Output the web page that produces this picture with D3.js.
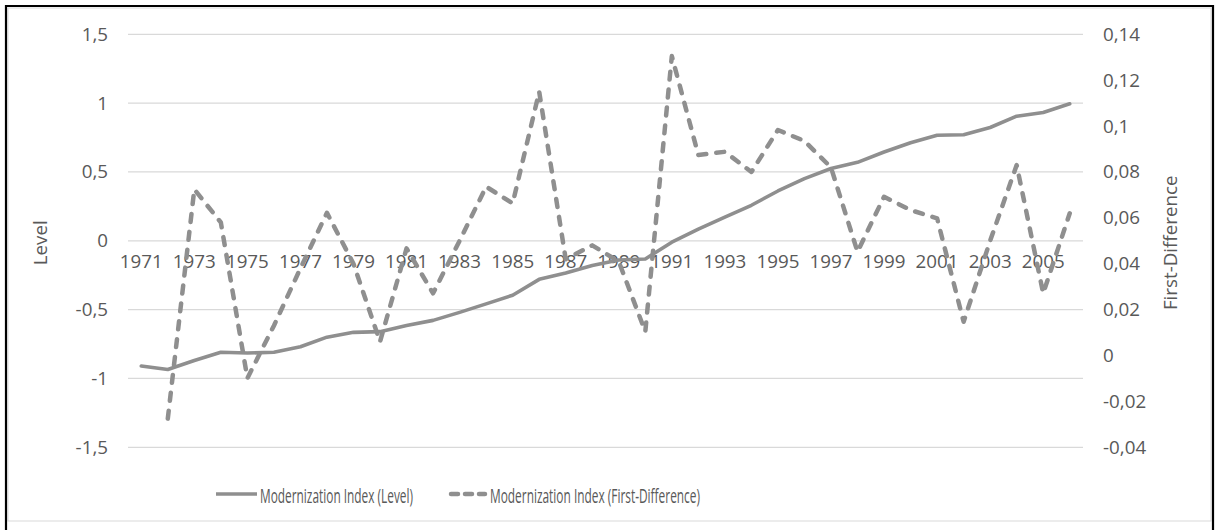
<!DOCTYPE html>
<html>
<head>
<meta charset="utf-8">
<script src="https://cdn.jsdelivr.net/npm/d3@7/dist/d3.min.js"></script>
<style>
  html, body { margin: 0; padding: 0; background: #fff; }
  svg { display: block; }
  text { font-family: "Open Sans", "DejaVu Sans", sans-serif; fill: #595959; }
</style>
</head>
<body>
<svg id="chart" width="1216" height="530"></svg>
<script>
// ---- Data ----
const years = [1971,1972,1973,1974,1975,1976,1977,1978,1979,1980,1981,1982,1983,1984,1985,1986,1987,1988,
               1989,1990,1991,1992,1993,1994,1995,1996,1997,1998,1999,2000,2001,2002,2003,2004,2005,2006];
const levelValues = [-0.91,-0.935,-0.87,-0.81,-0.815,-0.81,-0.77,-0.70,-0.665,-0.66,-0.615,-0.578,-0.52,-0.458,-0.395,-0.28,
                     -0.234,-0.18,-0.14,-0.132,-0.01,0.085,0.172,0.258,0.362,0.452,0.525,0.57,0.645,0.712,0.767,0.77,
                     0.823,0.905,0.932,0.995];
const diffValues = [null,-0.0275,0.0724,0.058,-0.0099,0.013,0.038,0.0622,0.040,0.006,0.0467,0.0271,0.050,0.0736,0.0663,0.115,
                    0.042,0.048,0.041,0.0104,0.1305,0.0874,0.0888,0.080,0.0983,0.0935,0.082,0.0452,0.0692,0.0634,0.0598,0.0147,
                    0.050,0.083,0.0271,0.062];
const leftTicks = [1.5, 1, 0.5, 0, -0.5, -1, -1.5];
const rightTicks = [0.14, 0.12, 0.1, 0.08, 0.06, 0.04, 0.02, 0, -0.02, -0.04];
const xTickYears = [1971,1973,1975,1977,1979,1981,1983,1985,1987,1989,1991,1993,1995,1997,1999,2001,2003,2005];
const seriesNames = ["Modernization Index (Level)", "Modernization Index (First-Difference)"];
const leftTitle = "Level";
const rightTitle = "First-Difference";

// ---- Layout ----
const svg = d3.select("#chart");
const plot = { left: 128, right: 1083, top: 34.3, bottom: 447.3 };
const lineColor = "#8f8f8f";
const gridColor = "#d9d9d9";
const fs = 18.8;
const fmt = v => String(v).replace(".", ",");

// frame
svg.append("rect").attr("x", 8).attr("y", 8).attr("width", 1203).attr("height", 513)
  .attr("fill", "#fff").attr("stroke", "#d9d9d9").attr("stroke-width", 1);
svg.append("path").attr("d", "M6,530 V6 H1213 V530").attr("fill", "none")
  .attr("stroke", "#000").attr("stroke-width", 2.2);

const x = d3.scaleBand().domain(years).range([plot.left, plot.right]).padding(0);
const xc = d => x(d) + x.bandwidth() / 2;
const yL = d3.scaleLinear().domain([-1.5, 1.5]).range([plot.bottom, plot.top]);
const yR = d3.scaleLinear().domain([-0.04, 0.14]).range([plot.bottom, plot.top]);

// gridlines (left axis)
svg.append("g").selectAll("line").data(leftTicks).join("line")
  .attr("x1", plot.left).attr("x2", plot.right)
  .attr("y1", d => yL(d)).attr("y2", d => yL(d))
  .attr("stroke", gridColor).attr("stroke-width", 1.2);

// left axis
const gL = svg.append("g").attr("transform", `translate(${plot.left},0)`)
  .call(d3.axisLeft(yL).tickValues(leftTicks).tickFormat(fmt).tickSize(0).tickPadding(20));
gL.select(".domain").remove();
gL.selectAll("text").attr("font-size", fs).attr("fill", "#595959").attr("font-family", "Open Sans");

// right axis
const gR = svg.append("g").attr("transform", `translate(${plot.right},0)`)
  .call(d3.axisRight(yR).tickValues(rightTicks).tickFormat(fmt).tickSize(0).tickPadding(20));
gR.select(".domain").remove();
gR.selectAll("text").attr("font-size", fs).attr("fill", "#595959").attr("font-family", "Open Sans");

// x axis at zero of left axis
const gX = svg.append("g").attr("transform", `translate(0,${yL(0)})`)
  .call(d3.axisBottom(x).tickValues(xTickYears).tickSize(0).tickPadding(14));
gX.select(".domain").remove();
gX.selectAll("text").attr("font-size", fs).attr("fill", "#595959").attr("font-family", "Open Sans");

// axis titles
svg.append("text").attr("transform", `translate(40,${(plot.top + plot.bottom) / 2 + 2}) rotate(-90)`)
  .attr("text-anchor", "middle").attr("dominant-baseline", "central")
  .attr("font-size", fs).text(leftTitle);
svg.append("text").attr("transform", `translate(1170,${(plot.top + plot.bottom) / 2 + 2}) rotate(-90)`)
  .attr("text-anchor", "middle").attr("dominant-baseline", "central")
  .attr("font-size", fs).text(rightTitle);

// series lines
const levelLine = d3.line().x((d, i) => xc(years[i])).y(d => yL(d));
svg.append("path").datum(levelValues).attr("d", levelLine)
  .attr("fill", "none").attr("stroke", lineColor).attr("stroke-width", 3.6)
  .attr("stroke-linejoin", "round").attr("stroke-linecap", "round");

const diffLine = d3.line().defined(d => d !== null).x((d, i) => xc(years[i])).y(d => yR(d));
svg.append("path").datum(diffValues).attr("d", diffLine)
  .attr("fill", "none").attr("stroke", lineColor).attr("stroke-width", 4.5)
  .attr("stroke-dasharray", "8,10").attr("stroke-linejoin", "round").attr("stroke-linecap", "round");

// legend
const legY = 494;
const leg = svg.append("g");
leg.append("line").attr("x1", 216).attr("x2", 257).attr("y1", legY).attr("y2", legY)
  .attr("stroke", lineColor).attr("stroke-width", 3.6);
leg.append("text").attr("x", 260).attr("y", legY + 1).attr("dominant-baseline", "central")
  .attr("font-size", 19.5).attr("textLength", 153).attr("lengthAdjust", "spacingAndGlyphs")
  .text(seriesNames[0]);
leg.append("line").attr("x1", 451).attr("x2", 485).attr("y1", legY).attr("y2", legY)
  .attr("stroke", lineColor).attr("stroke-width", 4.5).attr("stroke-dasharray", "7,7")
  .attr("stroke-linecap", "round");
leg.append("text").attr("x", 490).attr("y", legY + 1).attr("dominant-baseline", "central")
  .attr("font-size", 19.5).attr("textLength", 210).attr("lengthAdjust", "spacingAndGlyphs")
  .text(seriesNames[1]);
</script>
</body>
</html>
